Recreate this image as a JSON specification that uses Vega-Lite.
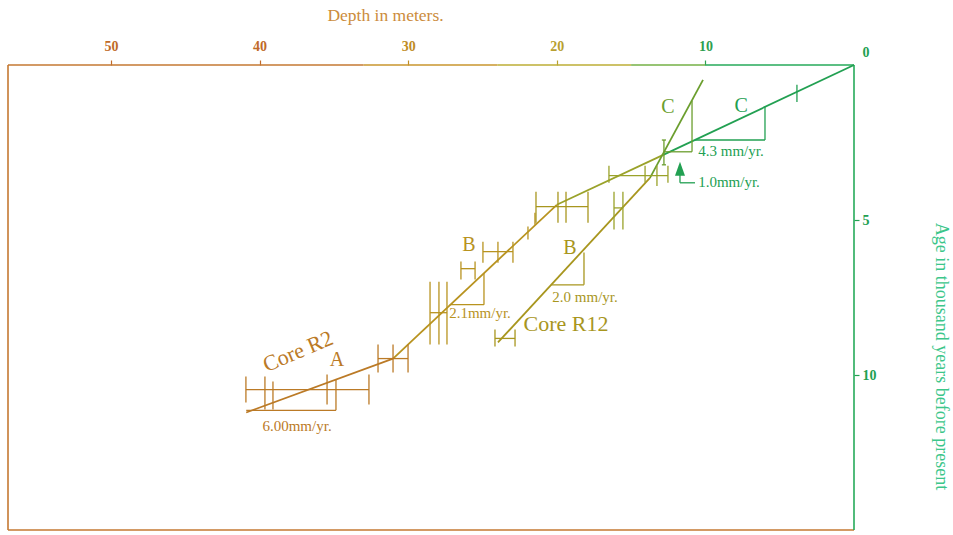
{
  "$schema": "https://vega.github.io/schema/vega-lite/v6.json",
  "width": 846,
  "height": 465,
  "padding": {"left": 8, "top": 65, "right": 99, "bottom": 5},
  "autosize": {"type": "none"},
  "background": "white",
  "config": {"view": {"stroke": null}},
  "datasets": {
    "frame": [
      {"d": 56.93, "a": 0, "d2": 56.93, "a2": 15, "tone": "f1"},
      {"d": 56.93, "a": 15, "d2": 0, "a2": 15, "tone": "f1"},
      {"d": 0, "a": 0, "d2": 0, "a2": 15, "tone": "f5"},
      {"d": 56.93, "a": 0, "d2": 33, "a2": 0, "tone": "f1"},
      {"d": 33, "a": 0, "d2": 24, "a2": 0, "tone": "f2"},
      {"d": 24, "a": 0, "d2": 15, "a2": 0, "tone": "f3"},
      {"d": 15, "a": 0, "d2": 10, "a2": 0, "tone": "f4"},
      {"d": 10, "a": 0, "d2": 0, "a2": 0, "tone": "f5"}
    ],
    "lines": [
      {"d": 40.9, "a": 11.21, "d2": 31.02, "a2": 9.47, "tone": "brown"},
      {"d": 31.02, "a": 9.47, "d2": 20.0, "a2": 4.51, "tone": "gold"},
      {"d": 20.0, "a": 4.51, "d2": 12.8, "a2": 2.89, "tone": "olive"},
      {"d": 12.8, "a": 2.89, "d2": 0, "a2": 0, "tone": "green"},
      {"d": 23.96, "a": 8.95, "d2": 13.73, "a2": 3.64, "tone": "ochre"},
      {"d": 13.73, "a": 3.64, "d2": 10.16, "a2": 0.48, "tone": "olivegreen"}
    ],
    "bars": [
      {"d": 40.92, "a": 10.47, "d2": 32.64, "a2": 10.47, "tone": "brown"},
      {"d": 40.92, "a": 10.05, "d2": 40.92, "a2": 10.89, "tone": "brown"},
      {"d": 39.64, "a": 10.05, "d2": 39.64, "a2": 11.11, "tone": "brown"},
      {"d": 39.10, "a": 10.21, "d2": 39.10, "a2": 11.11, "tone": "brown"},
      {"d": 35.46, "a": 9.98, "d2": 35.46, "a2": 10.95, "tone": "brown"},
      {"d": 32.64, "a": 9.98, "d2": 32.64, "a2": 10.95, "tone": "brown"},
      {"d": 40.9, "a": 11.14, "d2": 34.86, "a2": 11.14, "tone": "brown"},
      {"d": 34.86, "a": 10.13, "d2": 34.86, "a2": 11.14, "tone": "brown"},
      {"d": 32.03, "a": 9.47, "d2": 30.01, "a2": 9.47, "tone": "brown"},
      {"d": 32.03, "a": 9.02, "d2": 32.03, "a2": 9.92, "tone": "brown"},
      {"d": 31.02, "a": 9.02, "d2": 31.02, "a2": 9.92, "tone": "brown"},
      {"d": 30.01, "a": 9.02, "d2": 30.01, "a2": 9.92, "tone": "brown"},
      {"d": 28.53, "a": 7.99, "d2": 27.39, "a2": 7.99, "tone": "gold"},
      {"d": 28.53, "a": 6.99, "d2": 28.53, "a2": 9.02, "tone": "gold"},
      {"d": 27.93, "a": 6.99, "d2": 27.93, "a2": 9.02, "tone": "gold"},
      {"d": 27.39, "a": 6.99, "d2": 27.39, "a2": 9.02, "tone": "gold"},
      {"d": 27.2, "a": 7.73, "d2": 24.9, "a2": 7.73, "tone": "gold"},
      {"d": 24.9, "a": 6.72, "d2": 24.9, "a2": 7.73, "tone": "gold"},
      {"d": 26.45, "a": 6.57, "d2": 25.5, "a2": 6.57, "tone": "gold"},
      {"d": 26.45, "a": 6.34, "d2": 26.45, "a2": 6.92, "tone": "gold"},
      {"d": 25.5, "a": 6.34, "d2": 25.5, "a2": 6.92, "tone": "gold"},
      {"d": 24.97, "a": 6.02, "d2": 22.95, "a2": 6.02, "tone": "gold"},
      {"d": 24.97, "a": 5.70, "d2": 24.97, "a2": 6.38, "tone": "gold"},
      {"d": 23.96, "a": 5.70, "d2": 23.96, "a2": 6.38, "tone": "gold"},
      {"d": 22.95, "a": 5.70, "d2": 22.95, "a2": 6.38, "tone": "gold"},
      {"d": 21.94, "a": 5.21, "d2": 21.94, "a2": 5.63, "tone": "gold"},
      {"d": 21.47, "a": 4.77, "d2": 21.47, "a2": 5.15, "tone": "gold"},
      {"d": 21.4, "a": 4.57, "d2": 17.9, "a2": 4.57, "tone": "ochre"},
      {"d": 21.4, "a": 4.09, "d2": 21.4, "a2": 5.09, "tone": "ochre"},
      {"d": 19.92, "a": 4.09, "d2": 19.92, "a2": 5.09, "tone": "ochre"},
      {"d": 19.38, "a": 4.09, "d2": 19.38, "a2": 5.09, "tone": "ochre"},
      {"d": 17.9, "a": 4.09, "d2": 17.9, "a2": 5.09, "tone": "ochre"},
      {"d": 16.49, "a": 3.57, "d2": 12.52, "a2": 3.57, "tone": "olive"},
      {"d": 16.49, "a": 3.25, "d2": 16.49, "a2": 3.80, "tone": "olive"},
      {"d": 14.06, "a": 3.25, "d2": 14.06, "a2": 3.80, "tone": "olive"},
      {"d": 13.26, "a": 3.25, "d2": 13.26, "a2": 3.90, "tone": "olive"},
      {"d": 12.52, "a": 3.25, "d2": 12.52, "a2": 3.80, "tone": "olive"},
      {"d": 12.79, "a": 2.42, "d2": 12.79, "a2": 3.22, "tone": "olivegreen"},
      {"d": 12.93, "a": 2.42, "d2": 12.65, "a2": 2.42, "tone": "olivegreen"},
      {"d": 12.93, "a": 3.22, "d2": 12.65, "a2": 3.22, "tone": "olivegreen"},
      {"d": 24.16, "a": 8.82, "d2": 22.81, "a2": 8.82, "tone": "ochre"},
      {"d": 24.16, "a": 8.53, "d2": 24.16, "a2": 9.08, "tone": "ochre"},
      {"d": 22.81, "a": 8.53, "d2": 22.81, "a2": 9.08, "tone": "ochre"},
      {"d": 16.15, "a": 4.61, "d2": 15.55, "a2": 4.61, "tone": "olive"},
      {"d": 16.15, "a": 4.09, "d2": 16.15, "a2": 5.31, "tone": "olive"},
      {"d": 15.55, "a": 4.09, "d2": 15.55, "a2": 5.31, "tone": "olive"},
      {"d": 20.38, "a": 7.09, "d2": 18.17, "a2": 7.09, "tone": "ochre"},
      {"d": 18.17, "a": 6.05, "d2": 18.17, "a2": 7.09, "tone": "ochre"},
      {"d": 12.78, "a": 2.80, "d2": 10.9, "a2": 2.80, "tone": "olivegreen"},
      {"d": 10.9, "a": 1.15, "d2": 10.9, "a2": 2.80, "tone": "olivegreen"},
      {"d": 10.7, "a": 2.42, "d2": 5.99, "a2": 2.42, "tone": "green"},
      {"d": 5.99, "a": 1.35, "d2": 5.99, "a2": 2.42, "tone": "green"},
      {"d": 3.84, "a": 0.64, "d2": 3.84, "a2": 1.19, "tone": "green"},
      {"d": 11.71, "a": 3.54, "d2": 11.71, "a2": 3.80, "tone": "green"},
      {"d": 11.71, "a": 3.80, "d2": 10.7, "a2": 3.80, "tone": "green"}
    ],
    "arrow": [
      {"d": 11.71, "a": 3.35, "tone": "green"}
    ],
    "labels": [
      {"text": "Core R2", "d": 37.42, "a": 9.24, "tone": "brown", "kind": "rotated"},
      {"text": "A", "d": 34.79, "a": 9.5, "tone": "brown", "kind": "letter"},
      {"text": "6.00mm/yr.", "d": 37.48, "a": 11.63, "tone": "brown", "kind": "rate"},
      {"text": "B", "d": 25.91, "a": 5.8, "tone": "gold", "kind": "letter"},
      {"text": "2.1mm/yr.", "d": 25.17, "a": 7.99, "tone": "gold", "kind": "rate"},
      {"text": "B", "d": 19.11, "a": 5.89, "tone": "ochre", "kind": "letter"},
      {"text": "2.0 mm/yr.", "d": 18.1, "a": 7.47, "tone": "ochre", "kind": "rate"},
      {"text": "Core R12", "d": 19.38, "a": 8.34, "tone": "ochre", "kind": "core"},
      {"text": "C", "d": 12.52, "a": 1.35, "tone": "olivegreen", "kind": "letter"},
      {"text": "C", "d": 7.6, "a": 1.32, "tone": "green", "kind": "letter"},
      {"text": "4.3 mm/yr.", "d": 8.28, "a": 2.77, "tone": "green", "kind": "rate"},
      {"text": "1.0mm/yr.", "d": 8.41, "a": 3.78, "tone": "green", "kind": "rate"}
    ]
  },
  "encoding": {
    "x": {
      "field": "d", "type": "quantitative",
      "scale": {"domain": [0, 56.93], "reverse": true, "nice": false, "zero": false},
      "axis": {
        "orient": "top", "values": [10, 20, 30, 40, 50], "domain": false, "grid": false,
        "tickSize": 5, "tickWidth": 1.2,
        "tickColor": {"condition": [{"test": "datum.value <= 10", "value": "#2ea050"}, {"test": "datum.value <= 20", "value": "#b8a030"}, {"test": "datum.value <= 30", "value": "#c08c24"}], "value": "#c06a28"},
        "labelColor": {"condition": [{"test": "datum.value <= 10", "value": "#2ea050"}, {"test": "datum.value <= 20", "value": "#b8a030"}, {"test": "datum.value <= 30", "value": "#c08c24"}], "value": "#c06a28"},
        "labelFont": "Liberation Serif", "labelFontWeight": "bold", "labelFontSize": 14, "labelPadding": 7,
        "title": "Depth in meters.", "titleFont": "Liberation Serif", "titleFontSize": 17.5, "titleFontWeight": "normal",
        "titleColor": "#cc8c3c", "titleX": 377, "titleY": -50, "titleAlign": "center", "titleBaseline": "middle"
      }
    },
    "y": {
      "field": "a", "type": "quantitative",
      "scale": {"domain": [0, 15], "reverse": true, "nice": false, "zero": false},
      "axis": {
        "orient": "right", "values": [0, 5, 10], "domain": false, "grid": false,
        "tickSize": 5, "tickWidth": 1.2,
        "tickColor": {"condition": {"test": "datum.value == 0", "value": "transparent"}, "value": "#22a052"},
        "labelOffset": {"condition": {"test": "datum.value == 0", "value": -13}, "value": 0},
        "labelColor": "#22a052",
        "labelFont": "Liberation Serif", "labelFontWeight": "bold", "labelFontSize": 14, "labelPadding": 3,
        "title": "Age in thousand years before present", "titleFont": "Liberation Serif", "titleFontSize": 18,
        "titleFontWeight": "normal", "titleColor": "#3cc68a", "titleAngle": 90,
        "titleX": 86, "titleY": 291, "titleAlign": "center", "titleBaseline": "middle"
      }
    },
    "color": {
      "field": "tone", "type": "nominal", "legend": null,
      "scale": {
        "domain": ["f1", "f2", "f3", "f4", "f5", "brown", "gold", "ochre", "olive", "olivegreen", "green"],
        "range": ["#c57832", "#c8962e", "#bcae36", "#74b046", "#26aa5a", "#bb7a26", "#b8931f", "#a8961e", "#9aa22a", "#6b9e2e", "#22a052"]
      }
    }
  },
  "layer": [
    {
      "data": {"name": "frame"},
      "mark": {"type": "rule", "strokeWidth": 1.6},
      "encoding": {"x2": {"field": "d2"}, "y2": {"field": "a2"}}
    },
    {
      "data": {"name": "lines"},
      "mark": {"type": "rule", "strokeWidth": 1.8},
      "encoding": {"x2": {"field": "d2"}, "y2": {"field": "a2"}}
    },
    {
      "data": {"name": "bars"},
      "mark": {"type": "rule", "strokeWidth": 1.3},
      "encoding": {"x2": {"field": "d2"}, "y2": {"field": "a2"}}
    },
    {
      "data": {"name": "arrow"},
      "mark": {"type": "point", "shape": "M0,-1.4L1,1.4L-1,1.4Z", "filled": true, "size": 100, "opacity": 1}
    },
    {
      "data": {"name": "labels"},
      "transform": [{"filter": "datum.kind == 'rotated'"}],
      "mark": {"type": "text", "font": "Liberation Serif", "fontSize": 22, "angle": -23},
      "encoding": {"text": {"field": "text"}}
    },
    {
      "data": {"name": "labels"},
      "transform": [{"filter": "datum.kind == 'core'"}],
      "mark": {"type": "text", "font": "Liberation Serif", "fontSize": 22},
      "encoding": {"text": {"field": "text"}}
    },
    {
      "data": {"name": "labels"},
      "transform": [{"filter": "datum.kind == 'letter'"}],
      "mark": {"type": "text", "font": "Liberation Serif", "fontSize": 20},
      "encoding": {"text": {"field": "text"}}
    },
    {
      "data": {"name": "labels"},
      "transform": [{"filter": "datum.kind == 'rate'"}],
      "mark": {"type": "text", "font": "Liberation Serif", "fontSize": 15},
      "encoding": {"text": {"field": "text"}}
    }
  ]
}
